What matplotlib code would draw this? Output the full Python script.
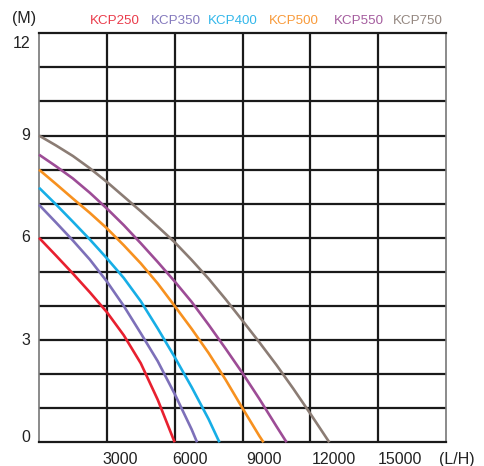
import matplotlib
matplotlib.use("Agg")
import matplotlib.pyplot as plt

plt.rcParams['font.family'] = ['Liberation Sans', 'DejaVu Sans']

# Flow (L/H) and head (M) for each model
models = ["KCP250", "KCP350", "KCP400", "KCP500", "KCP550", "KCP750"]
colors = ["#e8202f", "#7d70b9", "#17aee6", "#f7911f", "#9d4c96", "#8b7c74"]
label_colors = ["#ea3c4b", "#8479bd", "#33b7ea", "#f89a3a", "#a45c9e", "#948780"]

kcp250_flow = [0, 750, 1500, 2250, 3000, 3750, 4500, 5250, 6000]
kcp250_head = [6.0, 5.48, 4.95, 4.40, 3.82, 3.14, 2.32, 1.25, 0.0]

kcp350_flow = [0, 750, 1500, 2250, 3000, 3750, 4500, 5250, 6000, 6750, 6990]
kcp350_head = [6.97, 6.45, 5.92, 5.36, 4.72, 4.0, 3.2, 2.38, 1.42, 0.38, 0.0]

kcp400_flow = [0, 750, 1500, 2250, 3000, 3750, 4500, 5250, 6000, 6750, 7500, 7980]
kcp400_head = [7.47, 6.98, 6.47, 5.95, 5.40, 4.82, 4.14, 3.34, 2.5, 1.62, 0.68, 0.0]

kcp500_flow = [0, 750, 1500, 2250, 3000, 3750, 4500, 5250, 6000, 6750, 7500, 8250,
               9000, 9750, 9930]
kcp500_head = [8.0, 7.58, 7.15, 6.73, 6.28, 5.78, 5.25, 4.66, 4.0, 3.33, 2.62, 1.84,
               1.0, 0.18, 0.0]

kcp550_flow = [0, 750, 1500, 2250, 3000, 3750, 4500, 5250, 6000, 6750, 7500, 8250,
               9000, 9750, 10500, 10950]
kcp550_head = [8.44, 8.1, 7.74, 7.32, 6.86, 6.37, 5.84, 5.29, 4.72, 4.12, 3.45, 2.75,
               2.03, 1.27, 0.47, 0.0]

kcp750_flow = [0, 750, 1500, 2250, 3000, 3750, 4500, 5250, 6000, 6750, 7500, 8250,
               9000, 9750, 10500, 11250, 12000, 12750, 12840]
kcp750_head = [9.0, 8.71, 8.4, 8.04, 7.64, 7.21, 6.78, 6.33, 5.87, 5.35, 4.8, 4.2,
               3.57, 2.93, 2.27, 1.57, 0.84, 0.09, 0.0]

flows = [kcp250_flow, kcp350_flow, kcp400_flow, kcp500_flow, kcp550_flow, kcp750_flow]
heads = [kcp250_head, kcp350_head, kcp400_head, kcp500_head, kcp550_head, kcp750_head]

x_tick_labels = ["3000", "6000", "9000", "12000", "15000"]
x_label_pos = [3570, 6690, 9930, 13050, 15960]
y_tick_labels = ["0", "3", "6", "9", "12"]
y_label_pos = [0.14, 3.0, 6.0, 9.0, 11.7]

fig = plt.figure(figsize=(4.84, 4.66), dpi=100)
ax = fig.add_axes([39/484, 1-442.3/466, (446-39)/484, (442.3-33.3)/466])
ax.set_xlim(0, 18000)
ax.set_ylim(0, 12)

# grid
for gx in range(3000, 18000, 3000):
    ax.axvline(gx, color="#1a1a1a", lw=1.6, zorder=1)
for gy in range(1, 12):
    ax.axhline(gy, color="#1a1a1a", lw=1.6, zorder=1)

for f, h, c in zip(flows, heads, colors):
    ax.plot(f, h, color=c, lw=1.9, zorder=3, solid_capstyle='butt',
            solid_joinstyle='round', clip_on=False)

ax.set_xticks([])
ax.set_yticks([])
for side in ["top", "bottom"]:
    ax.spines[side].set_color("#1a1a1a")
    ax.spines[side].set_linewidth(1.6)
for side in ["left", "right"]:
    ax.spines[side].set_color("#777777")
    ax.spines[side].set_linewidth(1.2)

for lab, pos in zip(x_tick_labels, x_label_pos):
    ax.text(pos, -0.5, lab, ha="center", va="center", fontsize=11.5, color="#222222")
ax.text(17700, -0.5, "(L/H)", ha="left", va="center", fontsize=11.5, color="#222222", clip_on=False)

for lab, pos in zip(y_tick_labels, y_label_pos):
    ax.text(-400, pos, lab, ha="right", va="center", fontsize=11.5, color="#222222")
fig.text(12/484, 1-18/466, "(M)", ha="left", va="center", fontsize=11.5, color="#222222")

legend_x = [114.7, 176, 233, 294, 359, 418]
for m, lc, lx in zip(models, label_colors, legend_x):
    fig.text(lx/484, 1-21.5/466, m, ha="center", va="center", fontsize=9.6, color=lc)

fig.savefig("out.png", dpi=100)
